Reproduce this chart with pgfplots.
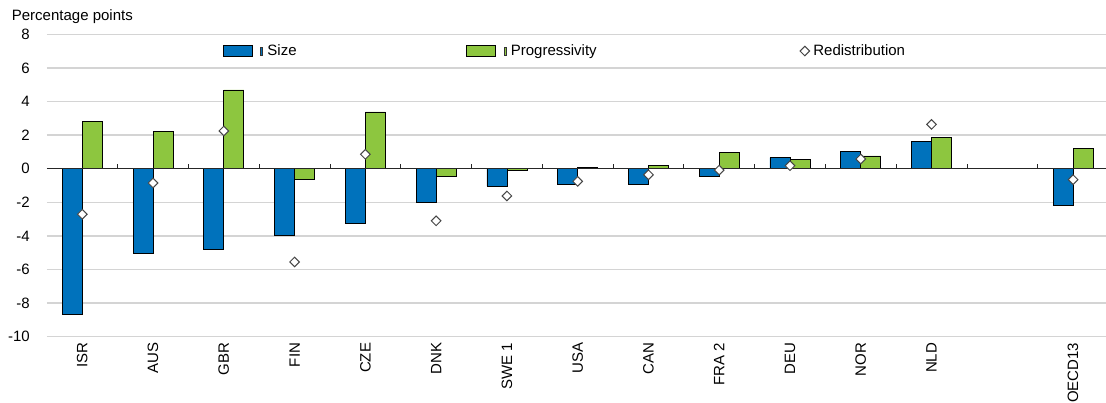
\documentclass[border=0pt]{standalone}
\usepackage{pgfplots}
\usepackage{pgfplotstable}
\pgfplotsset{compat=1.18}
\usepackage{fontspec}
\setmainfont{Liberation Sans}
\definecolor{sizeblue}{RGB}{0,114,188}
\definecolor{proggreen}{RGB}{141,198,63}
\definecolor{gridgray}{RGB}{212,212,212}
\definecolor{diagray}{RGB}{70,70,70}

\pgfplotstableread{
x size prog redis
0 -8.68 2.79 -2.71
1 -5.07 2.23 -0.85
2 -4.79 4.69 2.25
3 -3.96 -0.65 -5.55
4 -3.28 3.38 0.86
5 -1.98 -0.45 -3.10
6 -1.03 -0.08 -1.62
7 -0.95 0.10 -0.75
8 -0.95 0.20 -0.36
9 -0.48 0.96 -0.08
10 0.66 0.58 0.18
11 1.05 0.76 0.58
12 1.61 1.89 2.64
14 -2.16 1.22 -0.65
}\datatable

\begin{document}
\begin{tikzpicture}[font=\fontsize{15}{18}\selectfont]
\path[use as bounding box] (0pt,0pt) rectangle (1106pt,403pt);
\node[anchor=base west, inner sep=0pt] at (11.7pt,382pt) {Percentage points};
\begin{axis}[
  at={(46.9pt,66.3pt)}, anchor=south west,
  width=1059.1pt, height=302.3pt, scale only axis,
  xmin=-0.5, xmax=14.465, ymin=-10, ymax=8,
  ytick={-10,-8,...,8},
  xtick={0,1,...,12,14},
  xticklabels={ISR,AUS,GBR,FIN,CZE,DNK,SWE 1,USA,CAN,FRA 2,DEU,NOR,NLD,OECD13},
  ymajorgrids, grid style={gridgray, line width=1.5pt},
  axis line style={draw=none},
  major tick length=0pt,
  tick label style={font=\fontsize{15}{18}\selectfont},
  /pgf/number format/assume math mode=true,
  yticklabel style={anchor=east, inner sep=0pt},
  yticklabel shift=17pt,
  xticklabel style={rotate=90, anchor=east, inner sep=0pt},
  xticklabel shift=6pt,
  clip=false,
  legend columns=3,
  legend cell align=left,
  legend style={draw=none, fill=none, at={(0.1663,0.945)}, anchor=west,
    inner sep=0pt, outer sep=0pt, nodes={inner sep=0pt, outer sep=0pt},
    /tikz/column sep=0pt,
    /tikz/every odd column/.style={column sep=0pt},
    /tikz/every even column/.style={column sep=0pt},
    font=\fontsize{15}{18}\selectfont},
]
\addplot[ybar, bar width=20pt, bar shift=-10pt, fill=sizeblue, draw=black, line width=0.8pt,
  legend image code/.code={
    \path[draw=none, fill=none] (0pt,0pt) -- (44pt,0pt);
    \draw[fill=sizeblue, draw=black, line width=0.8pt] (0pt,-5.5pt) rectangle (29pt,5.5pt);
    \draw[fill=sizeblue, draw=black!80, line width=0.4pt] (37pt,-4pt) rectangle (39pt,4pt);
  }] table[x=x,y=size]{\datatable};
\addplot[ybar, bar width=20pt, bar shift=10pt, fill=proggreen, draw=black, line width=0.8pt,
  legend image code/.code={
    \path[draw=none, fill=none] (0pt,0pt) -- (44pt,0pt);
    \draw[fill=proggreen, draw=black, line width=0.8pt] (0pt,-5.5pt) rectangle (29pt,5.5pt);
    \draw[fill=proggreen, draw=black!80, line width=0.4pt] (37pt,-4pt) rectangle (39pt,4pt);
  }] table[x=x,y=prog]{\datatable};
\draw[black!85, line width=1.2pt] (axis cs:-0.5,0) -- (axis cs:14.465,0);
\pgfplotsinvokeforeach{0.5,1.5,...,13.5}{
  \draw[black!85, line width=0.8pt] (axis cs:#1,0) -- ++(0pt,5pt);
}
\addplot[only marks, mark=square*, mark size=3.4pt,
  mark options={rotate=45, fill=white, draw=diagray, line width=1pt},
  legend image code/.code={
    \path[draw=none, fill=none] (0pt,0pt) -- (15.5pt,0pt);
    \draw[fill=white, draw=diagray, line width=1pt] (7pt,4.8pt) -- (11.8pt,0pt) -- (7pt,-4.8pt) -- (2.2pt,0pt) -- cycle;
  }] table[x=x,y=redis]{\datatable};
\legend{{\makebox[199pt][l]{Size}},{\makebox[287pt][l]{Progressivity}},{Redistribution}}
\end{axis}
\end{tikzpicture}
\end{document}
